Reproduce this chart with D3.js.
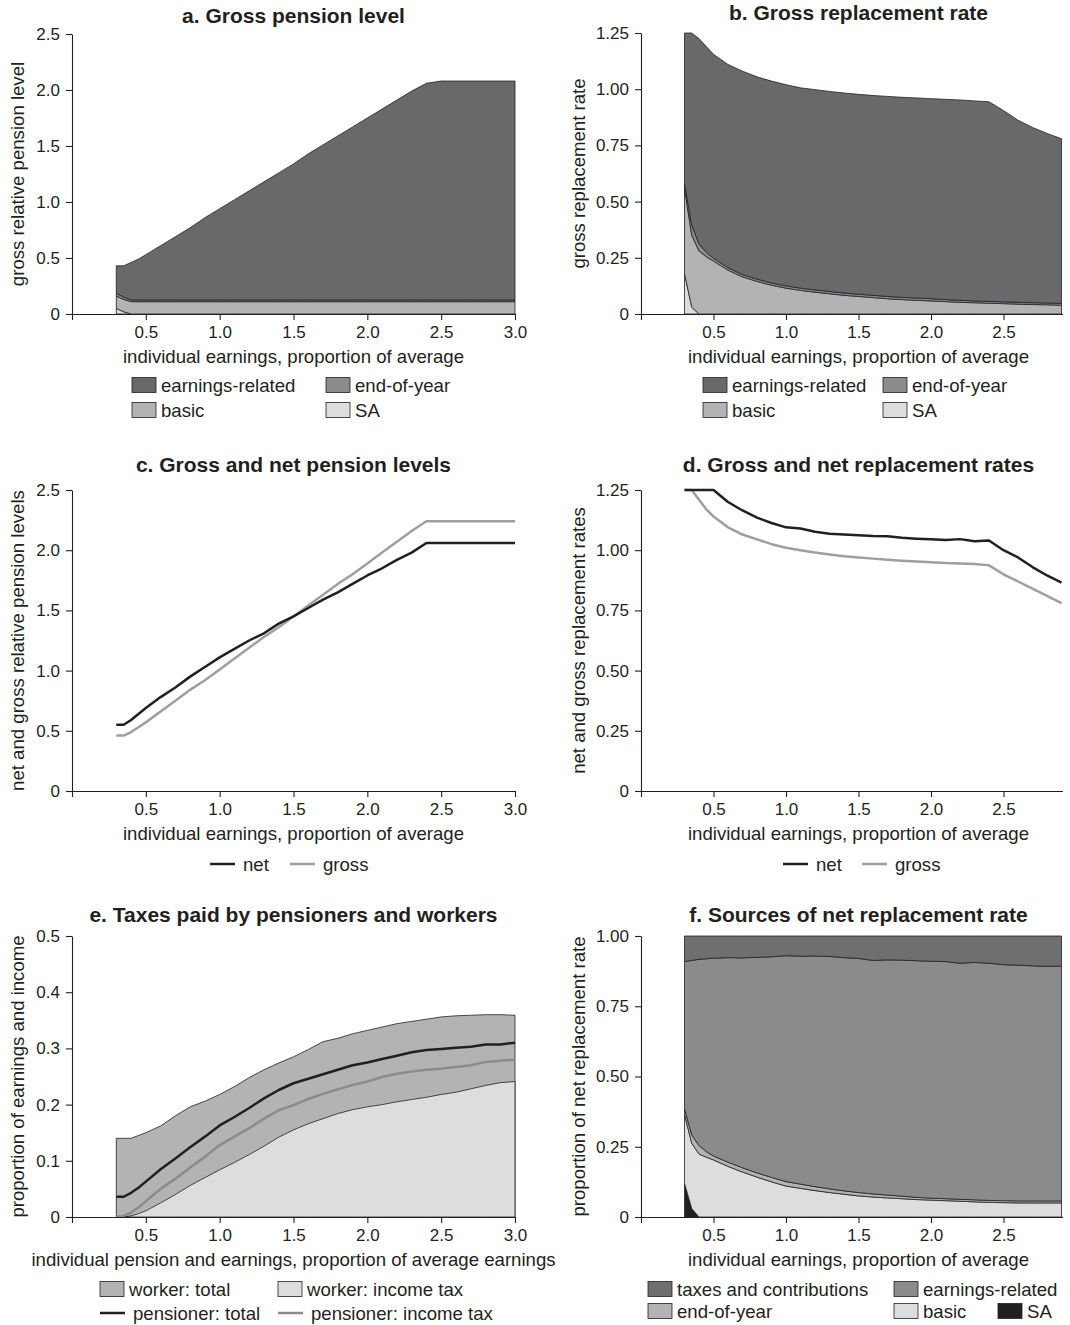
<!DOCTYPE html>
<html><head><meta charset="utf-8">
<script src="https://cdn.jsdelivr.net/npm/d3@7"></script>
<style>
body{margin:0;background:#fff}
text{font-family:"Liberation Sans",Arial,sans-serif;fill:#231f20}
</style>
</head><body>
<svg id="chart" width="1070" height="1325"></svg>
<script>
// ---------- data ----------
const earnings = [0.3,0.35,0.4,0.45,0.5,0.6,0.7,0.8,0.9,1.0,1.1,1.2,1.3,1.4,1.5,1.6,1.7,1.8,1.9,2.0,2.1,2.2,2.3,2.4,2.5,2.6,2.7,2.8,2.9,3.0];
const xTicksLeft = [0,0.5,1.0,1.5,2.0,2.5,3.0];
const xTicksRight = [0,0.5,1.0,1.5,2.0,2.5];

// a. gross pension level (stack components)
const aSA = [0.05,0.02,0,0,0,0,0,0,0,0,0,0,0,0,0,0,0,0,0,0,0,0,0,0,0,0,0,0,0,0];
const aBasic = [0.11,0.11,0.11,0.11,0.11,0.11,0.11,0.11,0.11,0.11,0.11,0.11,0.11,0.11,0.11,0.11,0.11,0.11,0.11,0.11,0.11,0.11,0.11,0.11,0.11,0.11,0.11,0.11,0.11,0.11];
const aEndOfYear = [0.025,0.02,0.015,0.015,0.015,0.015,0.015,0.015,0.015,0.015,0.015,0.015,0.015,0.015,0.015,0.015,0.015,0.015,0.015,0.015,0.015,0.015,0.015,0.015,0.015,0.015,0.015,0.015,0.015,0.015];
const aEarningsRelated = [0.245,0.28,0.335,0.365,0.405,0.485,0.565,0.645,0.735,0.815,0.895,0.975,1.055,1.135,1.215,1.305,1.385,1.465,1.545,1.625,1.705,1.785,1.865,1.935,1.955,1.955,1.955,1.955,1.955,1.955];
const aTicks = [0,0.5,1.0,1.5,2.0,2.5];

// b. gross replacement rate
const bSA = [0.18,0.03,0,0,0,0,0,0,0,0,0,0,0,0,0,0,0,0,0,0,0,0,0,0,0,0,0,0,0,0];
const bBasic = [0.38,0.32,0.28,0.255,0.235,0.195,0.165,0.145,0.128,0.115,0.105,0.097,0.09,0.083,0.078,0.073,0.068,0.064,0.061,0.058,0.055,0.052,0.05,0.048,0.046,0.044,0.042,0.041,0.039,0.037];
const bEndOfYear = [0.02,0.045,0.032,0.02,0.013,0.011,0.01,0.01,0.01,0.01,0.01,0.01,0.01,0.01,0.01,0.01,0.01,0.01,0.01,0.01,0.009,0.009,0.008,0.008,0.008,0.008,0.008,0.008,0.008,0.008];
const bEarningsRelated = [0.67,0.855,0.913,0.915,0.907,0.904,0.905,0.9,0.898,0.895,0.891,0.891,0.89,0.89,0.889,0.889,0.89,0.89,0.89,0.89,0.891,0.891,0.89,0.888,0.851,0.81,0.78,0.754,0.733,0.715];
const bTicks = [0,0.25,0.5,0.75,1.0,1.25];

// c. gross and net pension levels
const cNet = [0.55,0.55,0.59,0.64,0.69,0.78,0.86,0.95,1.03,1.11,1.18,1.25,1.31,1.39,1.45,1.52,1.59,1.65,1.72,1.79,1.85,1.92,1.98,2.06,2.06,2.06,2.06,2.06,2.06,2.06];
const cGross = [0.46,0.46,0.49,0.53,0.57,0.66,0.75,0.84,0.92,1.01,1.10,1.19,1.28,1.36,1.45,1.54,1.63,1.72,1.80,1.89,1.98,2.07,2.16,2.24,2.24,2.24,2.24,2.24,2.24,2.24];

// d. gross and net replacement rates
const dNet = [1.25,1.25,1.25,1.25,1.25,1.20,1.165,1.135,1.113,1.095,1.09,1.077,1.068,1.065,1.062,1.059,1.058,1.052,1.048,1.045,1.042,1.046,1.037,1.04,1.0,0.97,0.93,0.895,0.865,0.84];
const dGross = [1.25,1.25,1.21,1.17,1.14,1.095,1.065,1.045,1.025,1.01,1.0,0.99,0.982,0.975,0.97,0.965,0.96,0.956,0.953,0.95,0.947,0.945,0.943,0.937,0.9,0.87,0.84,0.81,0.78,0.75];

// e. taxes paid by pensioners and workers
const eWorkerTotal = [0.14,0.14,0.14,0.145,0.15,0.162,0.18,0.196,0.206,0.218,0.232,0.248,0.262,0.274,0.285,0.298,0.312,0.318,0.326,0.332,0.338,0.344,0.348,0.352,0.356,0.358,0.359,0.36,0.36,0.359];
const eWorkerIncomeTax = [0,0,0.002,0.006,0.011,0.025,0.04,0.056,0.07,0.084,0.097,0.111,0.126,0.142,0.155,0.166,0.175,0.184,0.191,0.196,0.2,0.205,0.209,0.213,0.218,0.222,0.228,0.234,0.239,0.241];
const ePensionerTotal = [0.036,0.036,0.043,0.052,0.063,0.085,0.104,0.124,0.143,0.163,0.178,0.194,0.211,0.226,0.238,0.246,0.254,0.262,0.27,0.275,0.281,0.287,0.293,0.297,0.299,0.301,0.303,0.307,0.307,0.31];
const ePensionerIncomeTax = [0,0.002,0.008,0.017,0.028,0.05,0.068,0.088,0.107,0.128,0.143,0.158,0.175,0.19,0.199,0.21,0.219,0.227,0.235,0.241,0.249,0.255,0.259,0.262,0.264,0.267,0.27,0.276,0.278,0.28];
const eTicks = [0,0.1,0.2,0.3,0.4,0.5];

// f. sources of net replacement rate
const fSA = [0.12,0.03,0,0,0,0,0,0,0,0,0,0,0,0,0,0,0,0,0,0,0,0,0,0,0,0,0,0,0,0];
const fBasic = [0.245,0.232,0.224,0.213,0.203,0.18,0.16,0.142,0.125,0.11,0.102,0.094,0.087,0.081,0.075,0.071,0.068,0.065,0.062,0.06,0.058,0.056,0.054,0.052,0.051,0.05,0.05,0.05,0.05,0.05];
const fEndOfYear = [0.02,0.03,0.03,0.02,0.014,0.015,0.015,0.015,0.016,0.016,0.015,0.014,0.013,0.012,0.012,0.011,0.01,0.009,0.008,0.007,0.007,0.007,0.007,0.007,0.007,0.007,0.007,0.007,0.007,0.007];
const fEarningsRelated = [0.524,0.621,0.663,0.686,0.704,0.728,0.747,0.767,0.785,0.804,0.811,0.821,0.827,0.83,0.833,0.831,0.837,0.84,0.842,0.843,0.844,0.84,0.845,0.844,0.84,0.839,0.837,0.835,0.836,0.836];
const fTaxes = [0.091,0.087,0.083,0.081,0.079,0.077,0.078,0.076,0.074,0.07,0.072,0.071,0.073,0.077,0.08,0.087,0.085,0.086,0.088,0.09,0.091,0.097,0.094,0.097,0.102,0.104,0.106,0.108,0.107,0.107];
const fTicks = [0,0.25,0.5,0.75,1.0];

// ---------- styles ----------
const INK = "#231f20";
const C = {er:"#68696b", eoy:"#8a8b8d", basic:"#b1b3b5", sa:"#dcdddf",
           fTax:"#6e6f71", fEr:"#8a8b8d", fEoy:"#b1b3b5", fBasic:"#dcdddf", fSa:"#231f20",
           gross:"#9d9fa2", pIncome:"#8a8b8d"};
const LABEL_SIZE = 18.6, TITLE_SIZE = 21, TICK_SIZE = 17;

const svg = d3.select("#chart");
svg.append("defs").append("clipPath").attr("id","clipR")
  .append("rect").attr("x",0).attr("y",0).attr("width",1063).attr("height",1325);

function panel(o){
  const g = svg.append("g");
  if (o.right) g.attr("clip-path","url(#clipR)");
  const x = d3.scaleLinear().domain([0,3]).range(o.xr);
  const y = d3.scaleLinear().domain([0, o.yTicks[o.yTicks.length-1]]).range(o.yr);
  const plot = g.append("g");
  const ax = g.append("g").attr("transform",`translate(0,${o.yr[0]})`)
    .call(d3.axisBottom(x).tickValues(o.right?xTicksRight:xTicksLeft).tickFormat(d=>d===0?"":d.toFixed(1)).tickSize(6).tickSizeOuter(0).tickPadding(6));
  const ay = g.append("g").attr("transform",`translate(${o.xr[0]},0)`)
    .call(d3.axisLeft(y).tickValues(o.yTicks).tickFormat(o.yFmt).tickSize(6).tickSizeOuter(0).tickPadding(6));
  [ax,ay].forEach(a=>{
    a.attr("font-family",null).attr("font-size",null);
    a.selectAll("path,line").attr("stroke",INK).attr("stroke-width",1.1);
    a.selectAll("text").attr("font-size",TICK_SIZE).attr("fill",INK);
  });
  const cx = (o.xr[0]+o.xr[1])/2;
  g.append("text").attr("x",cx).attr("y",o.titleY).attr("text-anchor","middle")
    .attr("font-size",TITLE_SIZE).attr("font-weight","bold").text(o.title);
  g.append("text").attr("x",cx).attr("y",o.yr[0]+49).attr("text-anchor","middle")
    .attr("font-size",LABEL_SIZE).text(o.xlabel);
  const lx = o.right ? 585 : 24;
  g.append("text").attr("transform",`translate(${lx},${(o.yr[0]+o.yr[1])/2}) rotate(-90)`)
    .attr("text-anchor","middle").attr("font-size",LABEL_SIZE).text(o.ylabel);
  return {g, plot, x, y};
}

function legend(items){
  const g = svg.append("g").attr("clip-path","url(#clipR)");
  items.forEach(it=>{
    if (it.type==="rect"){
      g.append("rect").attr("x",it.x).attr("y",it.y-7.5).attr("width",24).attr("height",15)
        .attr("fill",it.color).attr("stroke",INK).attr("stroke-width",0.8);
    } else {
      g.append("line").attr("x1",it.x).attr("x2",it.x+25).attr("y1",it.y).attr("y2",it.y)
        .attr("stroke",it.color).attr("stroke-width",2.5);
    }
    g.append("text").attr("x",it.x+(it.type==="rect"?29:33)).attr("y",it.y+6.5)
      .attr("font-size",LABEL_SIZE).text(it.label);
  });
}

function stackPanel(p, keys, series, colors, maxX){
  const rows = earnings.map((e,i)=>{const r={e}; keys.forEach((k,j)=>r[k]=series[j][i]); return r;})
    .filter(r=>r.e<=maxX);
  const st = d3.stack().keys(keys)(rows);
  const area = d3.area().x(d=>p.x(d.data.e)).y0(d=>p.y(d[0])).y1(d=>p.y(d[1]));
  p.plot.selectAll("path.layer").data(st).join("path").attr("class","layer")
    .attr("d",area).attr("fill",(d,i)=>colors[i]).attr("stroke",INK).attr("stroke-width",0.8)
    .attr("stroke-linejoin","round");
}

const L = [72,515], R = [641,1076];
const fmt1 = d=>d===0?"0":d.toFixed(1);
const fmt2 = d=>d===0?"0":d.toFixed(2);

// a
const pa = panel({xr:L, yr:[314,34], yTicks:aTicks, yFmt:fmt1, titleY:23,
  title:"a. Gross pension level", xlabel:"individual earnings, proportion of average",
  ylabel:"gross relative pension level"});
stackPanel(pa, ["sa","basic","eoy","er"], [aSA,aBasic,aEndOfYear,aEarningsRelated], [C.sa,C.basic,C.eoy,C.er], 3.0);

// b
const pb = panel({xr:R, yr:[314,33], yTicks:bTicks, yFmt:fmt2, titleY:20, right:true,
  title:"b. Gross replacement rate", xlabel:"individual earnings, proportion of average",
  ylabel:"gross replacement rate"});
stackPanel(pb, ["sa","basic","eoy","er"], [bSA,bBasic,bEndOfYear,bEarningsRelated], [C.sa,C.basic,C.eoy,C.er], 2.9);

legend([
  {type:"rect",x:132,y:385,color:C.er,label:"earnings-related"},
  {type:"rect",x:326,y:385,color:C.eoy,label:"end-of-year"},
  {type:"rect",x:132,y:410,color:C.basic,label:"basic"},
  {type:"rect",x:326,y:410,color:C.sa,label:"SA"},
  {type:"rect",x:703,y:385,color:C.er,label:"earnings-related"},
  {type:"rect",x:883,y:385,color:C.eoy,label:"end-of-year"},
  {type:"rect",x:703,y:410,color:C.basic,label:"basic"},
  {type:"rect",x:883,y:410,color:C.sa,label:"SA"}
]);

function lines(p, series, colors, maxX){
  series.forEach((s,j)=>{
    const pts = earnings.map((e,i)=>[e,s[i]]).filter(d=>d[0]<=maxX);
    p.plot.append("path").datum(pts)
      .attr("d", d3.line().x(d=>p.x(d[0])).y(d=>p.y(d[1])))
      .attr("fill","none").attr("stroke",colors[j]).attr("stroke-width",2.5).attr("stroke-linejoin","round");
  });
}

// c
const pc = panel({xr:L, yr:[791,490], yTicks:aTicks, yFmt:fmt1, titleY:472,
  title:"c. Gross and net pension levels", xlabel:"individual earnings, proportion of average",
  ylabel:"net and gross relative pension levels"});
lines(pc, [cGross, cNet], [C.gross, INK], 3.0);

// d
const pd = panel({xr:R, yr:[791,490], yTicks:bTicks, yFmt:fmt2, titleY:472, right:true,
  title:"d. Gross and net replacement rates", xlabel:"individual earnings, proportion of average",
  ylabel:"net and gross replacement rates"});
lines(pd, [dGross, dNet], [C.gross, INK], 2.9);

legend([
  {type:"line",x:210,y:864,color:INK,label:"net"},
  {type:"line",x:290,y:864,color:C.gross,label:"gross"},
  {type:"line",x:783,y:864,color:INK,label:"net"},
  {type:"line",x:862,y:864,color:C.gross,label:"gross"}
]);

// e
const pe = panel({xr:L, yr:[1217,936], yTicks:eTicks, yFmt:fmt1, titleY:922,
  title:"e. Taxes paid by pensioners and workers",
  xlabel:"individual pension and earnings, proportion of average earnings",
  ylabel:"proportion of earnings and income"});
[[eWorkerTotal,C.basic],[eWorkerIncomeTax,C.sa]].forEach(([s,col])=>{
  const pts = earnings.map((e,i)=>[e,s[i]]);
  pe.plot.append("path").datum(pts)
    .attr("d", d3.area().x(d=>pe.x(d[0])).y0(pe.y(0)).y1(d=>pe.y(d[1])))
    .attr("fill",col).attr("stroke",INK).attr("stroke-width",0.8);
});
lines(pe, [ePensionerIncomeTax, ePensionerTotal], [C.pIncome, INK], 3.0);

legend([
  {type:"rect",x:100,y:1289,color:C.basic,label:"worker: total"},
  {type:"rect",x:278,y:1289,color:C.sa,label:"worker: income tax"},
  {type:"line",x:100,y:1313,color:INK,label:"pensioner: total"},
  {type:"line",x:278,y:1313,color:C.pIncome,label:"pensioner: income tax"}
]);

// f
const pf = panel({xr:R, yr:[1217,936], yTicks:fTicks, yFmt:fmt2, titleY:922, right:true,
  title:"f. Sources of net replacement rate", xlabel:"individual earnings, proportion of average",
  ylabel:"proportion of net replacement rate"});
stackPanel(pf, ["sa","basic","eoy","er","tax"], [fSA,fBasic,fEndOfYear,fEarningsRelated,fTaxes],
  [C.fSa,C.fBasic,C.fEoy,C.fEr,C.fTax], 2.9);

legend([
  {type:"rect",x:648,y:1289,color:C.fTax,label:"taxes and contributions"},
  {type:"rect",x:894,y:1289,color:C.fEr,label:"earnings-related"},
  {type:"rect",x:648,y:1311,color:C.fEoy,label:"end-of-year"},
  {type:"rect",x:894,y:1311,color:C.fBasic,label:"basic"},
  {type:"rect",x:998,y:1311,color:C.fSa,label:"SA"}
]);
</script>
</body></html>
